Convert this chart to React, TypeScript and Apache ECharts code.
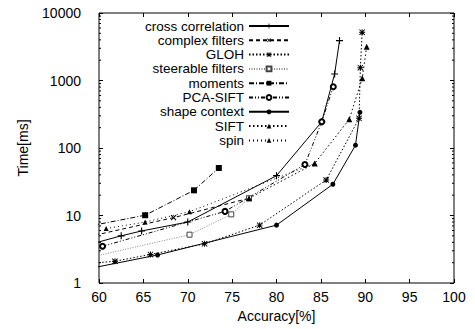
import React, { useEffect, useRef } from "react";
import * as echarts from "echarts";

// ---- data ----
const seriesNames = [
  "cross correlation",
  "complex filters",
  "GLOH",
  "steerable filters",
  "moments",
  "PCA-SIFT",
  "shape context",
  "SIFT",
  "spin",
];

const crossCorrelation = [[58, 3.45], [62.5, 5.0], [64.8, 5.9], [70.0, 8.0], [80.0, 38.9], [85.1, 245], [86.55, 1250], [87.1, 3900]];
const complexFilters = [[58, 4.6], [68.4, 9.3], [76.9, 18]];
const gloh = [[58, 1.9], [61.8, 2.1], [65.8, 2.65], [71.9, 3.8], [78.1, 7.2], [85.6, 33.6], [89.3, 275], [89.45, 1550], [89.65, 5200]];
const steerableFilters = [[58, 2.24], [70.2, 5.2], [74.9, 10.4], [76.9, 18]];
const moments = [[58, 6.6], [65.2, 10.1], [70.7, 23.6], [73.5, 50.6]];
const pcaSift = [[60.4, 3.5], [74.2, 11.5], [83.2, 57], [85.1, 245], [86.4, 810]];
const shapeContext = [[58, 1.55], [66.6, 2.6], [80, 7.2], [86.35, 29], [88.9, 110], [89.4, 338]];
const sift = [[76.9, 18], [84.3, 59], [88.2, 266], [89.66, 1080], [90.16, 3170]];
const spin = [[60.8, 6.4], [65.2, 8.0], [70.2, 11.4], [84.3, 59]];

const xMin = 60;
const xMax = 100;
const xInterval = 5;
const yMin = 1;
const yMax = 10000;
const minorMultipliers = [2, 3, 4, 5, 6, 7, 8, 9];
const decades = [1, 10, 100, 1000];

const FONT = "'Liberation Sans', Arial, Helvetica, sans-serif";

const PLUS = "path://M0,4.2H10V5.8H0ZM4.2,0H5.8V10H4.2Z";
const STAR = "path://M0,4.2H10V5.8H0ZM4.2,0H5.8V10H4.2ZM0,1.1L1.1,0L10,8.9L8.9,10ZM8.9,0L10,1.1L1.1,10L0,8.9Z";

export default function App() {
  const ref = useRef<HTMLDivElement>(null);

  useEffect(() => {
    if (!ref.current) return;
    const chart = echarts.init(ref.current, undefined, { renderer: "svg" });

    const grid = { left: 99, right: 21, top: 13, bottom: 46 };

    const mk = (
      name: string,
      data: number[][],
      dash: any,
      symbol: string,
      symbolSize: number,
      extra: any = {}
    ) => ({
      name,
      type: "line",
      data,
      xAxisIndex: 0,
      yAxisIndex: 0,
      symbol,
      symbolSize,
      showAllSymbol: true,
      clip: true,
      lineStyle: { color: extra.lineColor || "#000", width: 1, type: dash },
      itemStyle: extra.itemStyle || { color: "#000" },
      symbolRotate: extra.rotate || 0,
      emphasis: { disabled: true },
      z: extra.z || 2,
    });

    const series = [
      mk(seriesNames[0], crossCorrelation, "solid", PLUS, 7),
      mk(seriesNames[1], complexFilters, [4, 3], PLUS, 7, { rotate: 45 }),
      mk(seriesNames[2], gloh, [1.5, 2], STAR, 6),
      mk(seriesNames[3], steerableFilters, [1, 1.5], "rect", 5, {
        lineColor: "#888",
        itemStyle: { color: "#fff", borderColor: "#444", borderWidth: 1 },
      }),
      mk(seriesNames[4], moments, [5, 2, 1, 2], "rect", 6),
      mk(seriesNames[5], pcaSift, [4, 2, 1, 2, 1, 2], "emptyCircle", 5, {
        itemStyle: { color: "#000", borderColor: "#000", borderWidth: 1 },
      }),
      mk(seriesNames[6], shapeContext, "solid", "circle", 5),
      mk(seriesNames[7], sift, [1.5, 2.5], "triangle", 6),
      mk(seriesNames[8], spin, [1, 3], "triangle", 5),
    ];

    const tickStyle = { color: "#000", width: 1 };
    const labelFmt = (v: number) => String(Math.round(v));

    const option: any = {
      animation: false,
      backgroundColor: "#fff",
      textStyle: { fontFamily: FONT, color: "#000" },
      grid: { ...grid, show: true, borderColor: "#000", borderWidth: 1, backgroundColor: "transparent" },
      legend: {
        data: seriesNames,
        orient: "vertical",
        align: "right",
        right: 185,
        top: 19,
        itemWidth: 40,
        itemHeight: 6,
        itemGap: 0.3,
        padding: 0,
        textStyle: { fontSize: 13.5, lineHeight: 14, color: "#000", fontFamily: FONT, fontWeight: "normal" },
        inactiveColor: "#000",
        selectedMode: false,
      },
      xAxis: [
        {
          type: "value",
          min: xMin,
          max: xMax,
          interval: xInterval,
          position: "bottom",
          axisLine: { show: false },
          axisTick: { show: true, inside: true, length: 4, lineStyle: tickStyle },
          axisLabel: { show: true, color: "#000", fontSize: 14, margin: 7, fontFamily: FONT, formatter: labelFmt },
          splitLine: { show: false },
          name: "Accuracy[%]",
          nameLocation: "middle",
          nameGap: 23,
          nameTextStyle: { fontSize: 14, color: "#000", fontFamily: FONT },
        },
        {
          type: "value",
          min: xMin,
          max: xMax,
          interval: xInterval,
          position: "top",
          axisLine: { show: false },
          axisTick: { show: true, inside: true, length: 4, lineStyle: tickStyle },
          axisLabel: { show: false },
          splitLine: { show: false },
        },
      ],
      yAxis: [
        {
          type: "log",
          logBase: 10,
          min: yMin,
          max: yMax,
          position: "left",
          axisLine: { show: false },
          axisTick: { show: true, inside: true, length: 4, lineStyle: tickStyle },
          axisLabel: { show: true, color: "#000", fontSize: 14, margin: 18, fontFamily: FONT, formatter: labelFmt },
          splitLine: { show: false },
          name: "Time[ms]",
          nameLocation: "middle",
          nameRotate: 90,
          nameGap: 69,
          nameTextStyle: { fontSize: 14, color: "#000", fontFamily: FONT },
        },
        {
          type: "log",
          logBase: 10,
          min: yMin,
          max: yMax,
          position: "right",
          axisLine: { show: false },
          axisTick: { show: true, inside: true, length: 4, lineStyle: tickStyle },
          axisLabel: { show: false },
          splitLine: { show: false },
        },
      ],
      series,
    };

    chart.setOption(option);

    // minor log ticks, positioned through the y axis scale
    const width = ref.current.clientWidth;
    const xl = grid.left;
    const xr = width - grid.right;
    const graphics: any[] = [];
    decades.forEach((d) => {
      minorMultipliers.forEach((m) => {
        const v = d * m;
        const py = chart.convertToPixel({ yAxisIndex: 0 }, v) as number;
        graphics.push({
          type: "line",
          shape: { x1: xl, y1: py, x2: xl + 2, y2: py },
          style: { stroke: "#000", lineWidth: 1 },
          silent: true,
        });
        graphics.push({
          type: "line",
          shape: { x1: xr - 2, y1: py, x2: xr, y2: py },
          style: { stroke: "#000", lineWidth: 1 },
          silent: true,
        });
      });
    });
    chart.setOption({ graphic: graphics });

    return () => chart.dispose();
  }, []);

  return <div ref={ref} style={{ width: 475, height: 329, position: "absolute", left: 0, top: 0 }} />;
}
